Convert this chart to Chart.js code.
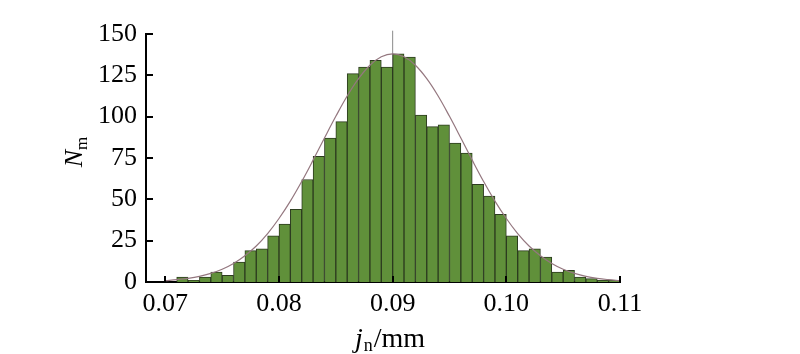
<!DOCTYPE html>
<html>
<head>
<meta charset="utf-8">
<script src="https://cdn.jsdelivr.net/npm/chart.js@4.4.0/dist/chart.umd.min.js"></script>
<style>
  body { margin: 0; background: #fff; }
  #wrap { width: 800px; height: 354px; }
</style>
</head>
<body>
<div id="wrap"><canvas id="histChart"></canvas></div>
<script>
// bin centres (mm), bin width 0.001
var binCenters = [0.0715, 0.0725, 0.0735, 0.0745, 0.0755, 0.0765, 0.0775, 0.0785, 0.0795, 0.0805,
  0.0815, 0.0825, 0.0835, 0.0845, 0.0855, 0.0865, 0.0875, 0.0885, 0.0895, 0.0905,
  0.0915, 0.0925, 0.0935, 0.0945, 0.0955, 0.0965, 0.0975, 0.0985, 0.0995, 0.1005,
  0.1015, 0.1025, 0.1035, 0.1045, 0.1055, 0.1065, 0.1075, 0.1085, 0.1095];
var counts = [3, 1, 3, 6, 4, 12, 19, 20, 28, 35,
  44, 62, 76, 87, 97, 126, 130, 134, 130, 138,
  136, 101, 94, 95, 84, 78, 59, 52, 41, 28,
  19, 20, 15, 6, 7, 3, 2, 1, 1];

// fitted curve
var curveX = [0.070, 0.071, 0.072, 0.073, 0.074, 0.075, 0.076, 0.077, 0.078, 0.079,
  0.080, 0.081, 0.082, 0.083, 0.084, 0.085, 0.086, 0.087, 0.088, 0.089,
  0.090, 0.091, 0.092, 0.093, 0.094, 0.095, 0.096, 0.097, 0.098, 0.099,
  0.100, 0.101, 0.102, 0.103, 0.104, 0.105, 0.106, 0.107, 0.108, 0.109, 0.110];
var curveY = [0.8, 1.4, 2.2, 3.4, 5.2, 7.7, 11.2, 15.9, 21.8, 29.3,
  38.4, 48.9, 60.8, 73.7, 87.1, 100.2, 112.5, 123.0, 131.1, 136.2,
  138, 136.2, 131.1, 123.0, 112.5, 100.2, 87.1, 73.7, 60.8, 48.9,
  38.4, 29.3, 21.8, 15.9, 11.2, 7.7, 5.2, 3.4, 2.2, 1.4, 0.8];

var meanX = 0.090;
var meanLineTop = 152;

var xTicks = [0.07, 0.08, 0.09, 0.10, 0.11];
var yTicks = [0, 25, 50, 75, 100, 125, 150];

var serif = '"Liberation Serif", "Times New Roman", serif';

// inward tick marks + axis titles with sub-scripts
var axisDecor = {
  id: 'axisDecor',
  afterDraw: function (chart) {
    var ctx = chart.ctx;
    var xs = chart.scales.x, ys = chart.scales.y;
    var area = chart.chartArea;
    ctx.save();
    ctx.strokeStyle = '#000';
    ctx.lineWidth = 2;
    yTicks.forEach(function (v) {
      if (v === 0) return;
      var py = Math.round(ys.getPixelForValue(v));
      ctx.beginPath();
      ctx.moveTo(area.left, py);
      ctx.lineTo(area.left + 7, py);
      ctx.stroke();
    });
    xTicks.forEach(function (v) {
      var px = Math.round(xs.getPixelForValue(v));
      ctx.beginPath();
      ctx.moveTo(px, area.bottom);
      ctx.lineTo(px, area.bottom - 6);
      ctx.stroke();
    });

    ctx.fillStyle = '#000';
    ctx.textBaseline = 'alphabetic';
    ctx.textAlign = 'left';

    // x title: j_n/mm
    var bigI = 'italic 28px ' + serif, big = '28px ' + serif, small = '18px ' + serif;
    ctx.font = bigI; var w1 = ctx.measureText('j').width;
    ctx.font = small; var w2 = ctx.measureText('n').width;
    ctx.font = big; var w3 = ctx.measureText('/mm').width;
    var x0 = 390 - (w1 + w2 + w3 + 2) / 2;
    var by = 347;
    ctx.font = bigI; ctx.fillText('j', x0, by);
    ctx.font = small; ctx.fillText('n', x0 + w1 + 1, by + 4);
    ctx.font = big; ctx.fillText('/mm', x0 + w1 + w2 + 2, by);

    // y title: N_m
    ctx.translate(82, 152);
    ctx.rotate(-Math.PI / 2);
    ctx.font = 'italic 26px ' + serif; var n1 = ctx.measureText('N').width;
    ctx.font = '17px ' + serif; var n2 = ctx.measureText('m').width;
    var s0 = -(n1 + n2) / 2;
    ctx.font = 'italic 26px ' + serif; ctx.fillText('N', s0, 0);
    ctx.font = '17px ' + serif; ctx.fillText('m', s0 + n1, 5);
    ctx.restore();
  }
};

new Chart(document.getElementById('histChart'), {
  type: 'bar',
  data: {
    datasets: [
      {
        type: 'line',
        label: 'fit',
        data: curveX.map(function (x, i) { return { x: x, y: curveY[i] }; }),
        borderColor: '#94777f',
        borderWidth: 1.2,
        pointRadius: 0,
        tension: 0.4,
        fill: false
      },
      {
        type: 'bar',
        label: 'count',
        data: binCenters.map(function (x, i) { return { x: x, y: counts[i] }; }),
        backgroundColor: '#60903a',
        borderColor: '#2c3b1f',
        borderWidth: 1,
        barPercentage: 1,
        categoryPercentage: 1
      },
      {
        type: 'line',
        label: 'mean',
        data: [{ x: meanX, y: 0 }, { x: meanX, y: meanLineTop }],
        borderColor: '#8a8a8a',
        borderWidth: 1,
        pointRadius: 0,
        clip: false
      }
    ]
  },
  options: {
    responsive: true,
    maintainAspectRatio: false,
    animation: false,
    layout: { padding: { left: 0, right: 180, top: 34, bottom: 0 } },
    plugins: { legend: { display: false }, tooltip: { enabled: false } },
    scales: {
      x: {
        type: 'linear',
        min: 0.0683,
        max: 0.11,
        offset: false,
        grid: { display: false, drawTicks: false },
        border: { color: '#000', width: 2 },
        afterBuildTicks: function (s) { s.ticks = xTicks.map(function (v) { return { value: v }; }); },
        ticks: {
          padding: 7,
          color: '#000',
          font: { family: serif, size: 26 },
          maxRotation: 0,
          autoSkip: false,
          callback: function (v) { return v.toFixed(2); }
        },
        afterFit: function (s) { s.height = 72; }
      },
      y: {
        min: 0,
        max: 150,
        grid: { display: false, drawTicks: false },
        border: { color: '#000', width: 2 },
        afterBuildTicks: function (s) { s.ticks = yTicks.map(function (v) { return { value: v }; }); },
        ticks: {
          padding: 9,
          color: '#000',
          font: { family: serif, size: 26 }
        },
        afterFit: function (s) { s.width = 146; }
      }
    }
  },
  plugins: [axisDecor]
});
</script>
</body>
</html>
